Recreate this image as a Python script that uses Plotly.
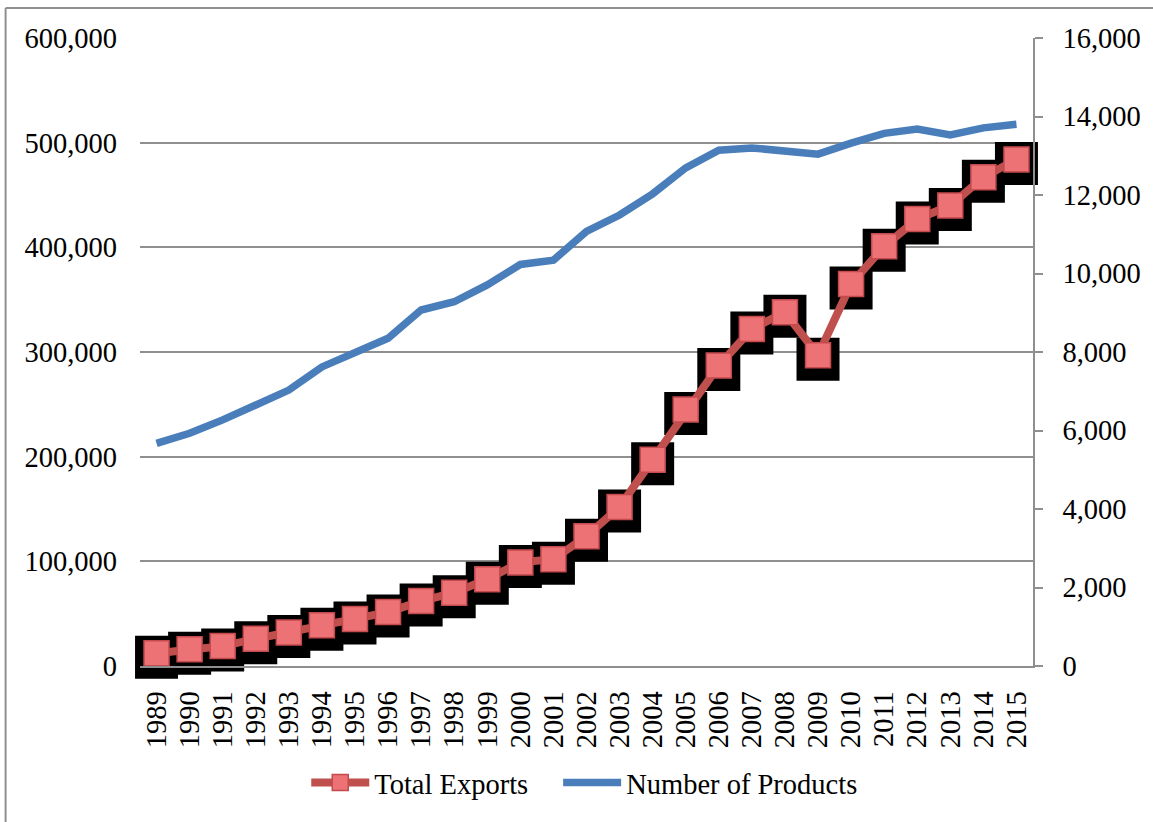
import plotly.graph_objects as go

years = [str(y) for y in range(1989, 2016)]
total_exports = [12100, 16000, 19000, 26000, 32000, 39000, 45000, 51500, 62000,
                 70000, 83000, 99000, 102000, 124000, 152000, 197000, 245000,
                 287000, 322000, 338000, 297000, 365000, 401000, 427000, 440000,
                 467000, 484000]
num_products = [5670, 5930, 6270, 6630, 7030, 7620, 7970, 8350, 9070,
                9280, 9710, 10230, 10340, 11070, 11490, 12030, 12690,
                13140, 13200, 13100, 13040, 13320, 13570, 13680, 13530,
                13710, 13800]
left_ticks = list(range(0, 600001, 100000))
right_ticks = list(range(0, 16001, 2000))

W, H = 1153, 822
ML, MR, MT, MB = 140, 116, 38, 156
plot_w = W - ML - MR
plot_h = H - MT - MB
LEFT_MAX = 600000
RIGHT_MAX = 16000

# shadow drop of 4 px expressed in left-axis units
shadow_shift = 4 / plot_h * LEFT_MAX
shadow_y = [v - shadow_shift for v in total_exports]

FONT = "Liberation Serif"
FS = 28.5
GRID = "#8f8f8f"

fig = go.Figure()

fig.add_trace(go.Scatter(
    x=years, y=shadow_y, mode="markers",
    marker=dict(symbol="square", size=43, color="black", line=dict(width=0)),
    showlegend=False, hoverinfo="skip", cliponaxis=False, yaxis="y"))

fig.add_trace(go.Scatter(
    x=years, y=total_exports, mode="lines+markers", name="Total Exports",
    line=dict(color="#c0504d", width=8),
    marker=dict(symbol="square", size=25, color="#ec7276",
                line=dict(color="#c44a4e", width=1.5)),
    cliponaxis=False, yaxis="y", legend="legend"))

fig.add_trace(go.Scatter(
    x=years, y=num_products, mode="lines", name="Number of Products",
    line=dict(color="#4a7ebb", width=7.5), yaxis="y2", cliponaxis=False,
    legend="legend2"))

leg_common = dict(orientation="h", y=-(783 - (H - MB)) / plot_h, yanchor="middle",
                  xanchor="left", font=dict(family=FONT, size=FS), itemwidth=58,
                  bgcolor="rgba(0,0,0,0)")

fig.update_layout(
    width=W, height=H,
    margin=dict(l=ML, r=MR, t=MT, b=MB),
    paper_bgcolor="white", plot_bgcolor="white",
    font=dict(family=FONT, size=FS, color="black"),
    showlegend=True,
    legend=dict(x=(307 - ML) / plot_w, **leg_common),
    legend2=dict(x=(560 - ML) / plot_w, **leg_common),
    xaxis=dict(type="category", range=[-0.5, len(years) - 0.5],
               tickmode="array", tickvals=years, ticktext=years,
               tickangle=-90, showgrid=False, showline=True, linecolor=GRID,
               linewidth=1.5, ticks="", ticklabelstandoff=12,
               tickfont=dict(family=FONT, size=FS)),
    yaxis=dict(range=[0, LEFT_MAX], tickvals=left_ticks, tickformat=",",
               showgrid=True, gridcolor=GRID, gridwidth=1.5, zeroline=False,
               showline=False, ticks="", ticklabelstandoff=22,
               tickfont=dict(family=FONT, size=FS)),
    yaxis2=dict(range=[0, RIGHT_MAX], tickvals=right_ticks, tickformat=",",
                overlaying="y", side="right", showgrid=False, zeroline=False,
                showline=True, linecolor=GRID, linewidth=1.5,
                ticks="outside", ticklen=8, tickcolor=GRID, tickwidth=1.5,
                ticklabelstandoff=14, tickfont=dict(family=FONT, size=FS)),
    shapes=[
        dict(type="line", xref="paper", yref="paper",
             x0=(5 - ML) / plot_w, x1=(W + 10 - ML) / plot_w,
             y0=1 + (MT - 8) / plot_h, y1=1 + (MT - 8) / plot_h,
             line=dict(color="#8f8f8f", width=2)),
        dict(type="line", xref="paper", yref="paper",
             x0=(5 - ML) / plot_w, x1=(5 - ML) / plot_w,
             y0=1 + (MT - 8) / plot_h, y1=-(MB + 10) / plot_h,
             line=dict(color="#8f8f8f", width=2)),
    ],
)

fig.write_html("out.html")
